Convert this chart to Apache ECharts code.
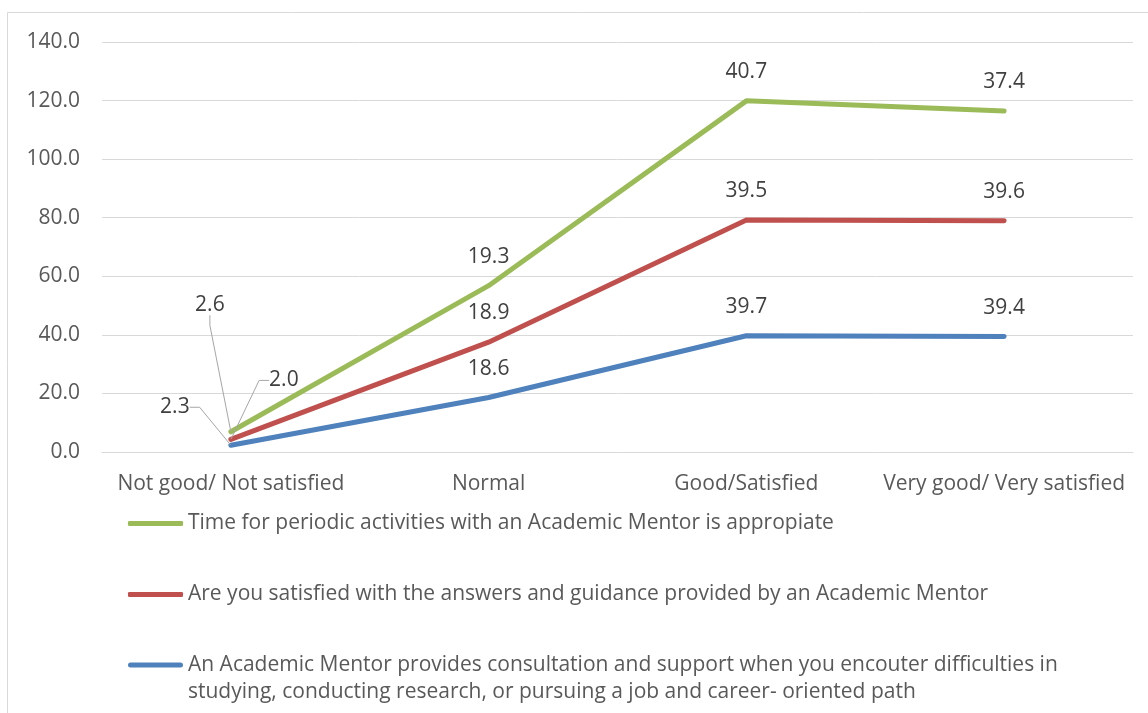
<!DOCTYPE html>
<html>
<head>
<meta charset="utf-8">
<script src="https://cdn.jsdelivr.net/npm/echarts@6/dist/echarts.min.js"></script>
<style>
html,body{margin:0;padding:0;background:#fff;}
#chart{width:1148px;height:713px;}
</style>
</head>
<body>
<div id="chart"></div>
<script>
const categories = ['Not good/ Not satisfied', 'Normal', 'Good/Satisfied', 'Very good/ Very satisfied'];
const blueValues = [2.3, 18.6, 39.7, 39.4];
const redValues = [2.0, 18.9, 39.5, 39.6];
const greenValues = [2.6, 19.3, 40.7, 37.4];
const seriesNames = [
  'Time for periodic activities with an Academic Mentor is appropiate',
  'Are you satisfied with the answers and guidance provided by an Academic Mentor',
  'An Academic Mentor provides consultation and support when you encouter difficulties in studying, conducting research, or pursuing a job and career- oriented path'
];
const yTicks = { min: 0, max: 140, interval: 20 };

const FONT = 'Open Sans';
const FS = 21;
const TXT = '#595959';
const firstLabelOffsets = { blue: [-56, -9], red: [53, -30], green: [-21, -98] };

function mkData(vals) {
  return vals.map((v, i) => i === 0 ? { value: v, labelLine: { show: true } } : v);
}
function mkSeries(name, vals, color, key) {
  return {
    name: name,
    type: 'line',
    stack: 'total',
    data: mkData(vals),
    symbol: 'circle',
    symbolSize: 1,
    showSymbol: true,
    lineStyle: { color: color, width: 5, cap: 'round' },
    itemStyle: { color: color },
    z: key === 'blue' ? 4 : key === 'red' ? 3 : 2,
    label: {
      show: true,
      position: 'top',
      distance: 18,
      color: '#404040',
      fontFamily: FONT,
      fontSize: FS,
      formatter: p => Number(p.value).toFixed(1)
    },
    labelLine: { show: false, lineStyle: { color: '#A6A6A6', width: 1 }, length2: 10 },
    labelLayout: function (p) {
      if (p.dataIndex === 0) {
        const o = firstLabelOffsets[key];
        return { dx: o[0], dy: o[1] };
      }
      return {};
    },
    emphasis: { disabled: true }
  };
}

const chart = echarts.init(document.getElementById('chart'), null, { renderer: 'canvas' });
const legendBase = {
  orient: 'vertical',
  left: 123,
  itemWidth: 55,
  itemHeight: 5,
  itemGap: 0,
  selectedMode: false,
  icon: 'roundRect',
  itemStyle: { borderWidth: 0 },
  textStyle: { color: TXT, fontFamily: FONT, fontSize: FS, lineHeight: 27 }
};
chart.setOption({
  animation: false,
  backgroundColor: '#fff',
  graphic: [{
    type: 'rect',
    shape: { x: 7.5, y: 12.5, width: 1160, height: 720 },
    style: { fill: 'none', stroke: '#D9D9D9', lineWidth: 1 },
    silent: true
  }],
  grid: { left: 102, right: 15, top: 42, bottom: 261, containLabel: false },
  legend: [
    Object.assign({}, legendBase, { top: 505, data: [seriesNames[0]] }),
    Object.assign({}, legendBase, { top: 576, data: [seriesNames[1]] }),
    Object.assign({}, legendBase, {
      top: 646.5,
      data: [seriesNames[2]],
      itemHeight: 32,
      icon: 'path://M2.5,0L52.5,0A2.5,2.5,0,0,1,52.5,5L2.5,5A2.5,2.5,0,0,1,2.5,0Z M0,32L55,32',
      formatter: n => n.replace(' studying', '\nstudying')
    })
  ],
  xAxis: {
    type: 'category',
    data: categories,
    boundaryGap: true,
    axisLine: { show: true, lineStyle: { color: '#D9D9D9', width: 1 } },
    axisTick: { show: false },
    axisLabel: { color: TXT, fontFamily: FONT, fontSize: FS, margin: 22, interval: 0 }
  },
  yAxis: {
    type: 'value',
    min: yTicks.min,
    max: yTicks.max,
    interval: yTicks.interval,
    axisLine: { show: false },
    axisTick: { show: false },
    splitLine: { lineStyle: { color: '#D9D9D9', width: 1 } },
    axisLabel: { color: TXT, fontFamily: FONT, fontSize: FS, margin: 22, formatter: v => v.toFixed(1) }
  },
  series: [
    mkSeries(seriesNames[2], blueValues, '#4F81BD', 'blue'),
    mkSeries(seriesNames[1], redValues, '#C0504D', 'red'),
    mkSeries(seriesNames[0], greenValues, '#9BBB59', 'green')
  ]
});
</script>
</body>
</html>
